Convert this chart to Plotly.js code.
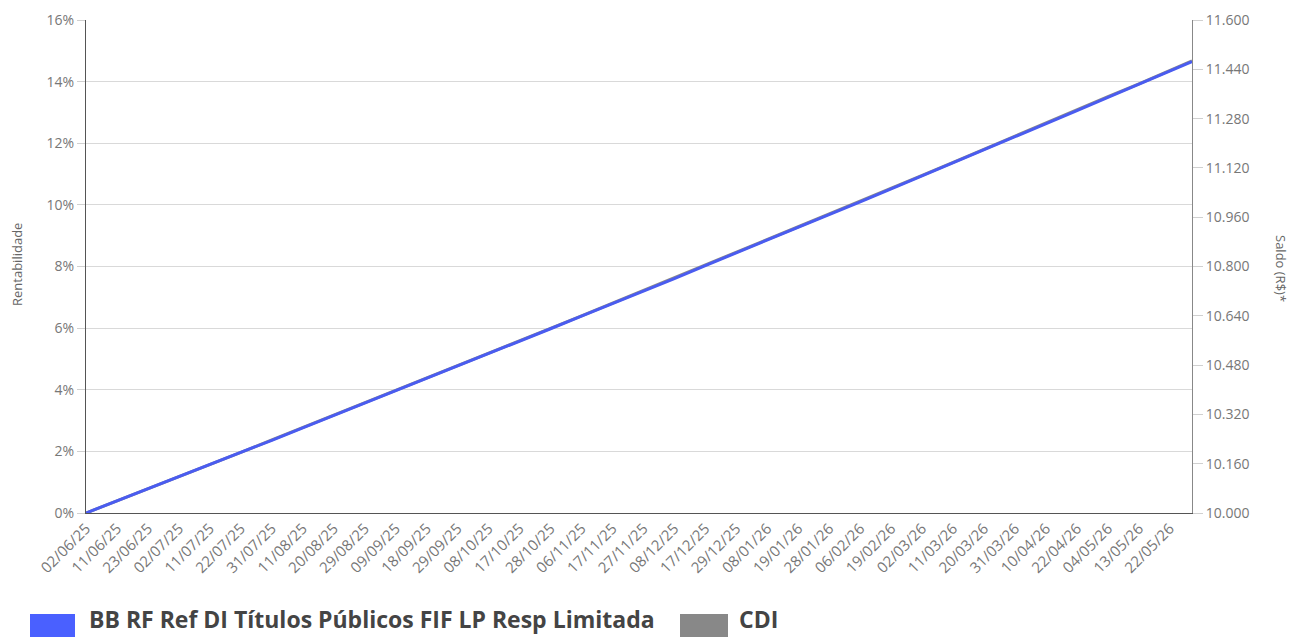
<!DOCTYPE html>
<html>
<head>
<meta charset="utf-8">
<script src="https://cdn.plot.ly/plotly-3.0.1.min.js"></script>
<style>
html,body{margin:0;padding:0;background:#fff;}
#chart{width:1289px;height:637px;}
</style>
</head>
<body>
<div id="chart"></div>
<script>
// Dates (business days) at which values were read
var dates = ["2025-06-02","2025-06-11","2025-06-23","2025-07-02","2025-07-11","2025-07-22","2025-07-31",
  "2025-08-11","2025-08-20","2025-08-29","2025-09-09","2025-09-18","2025-09-29","2025-10-08","2025-10-17",
  "2025-10-28","2025-11-06","2025-11-17","2025-11-27","2025-12-08","2025-12-17","2025-12-29","2026-01-08",
  "2026-01-19","2026-01-28","2026-02-06","2026-02-19","2026-03-02","2026-03-11","2026-03-20","2026-03-31",
  "2026-04-10","2026-04-22","2026-05-04","2026-05-13","2026-05-22","2026-05-29"];

var tickDates = dates.slice(0, 36);
var tickLabels = ["02/06/25","11/06/25","23/06/25","02/07/25","11/07/25","22/07/25","31/07/25",
  "11/08/25","20/08/25","29/08/25","09/09/25","18/09/25","29/09/25","08/10/25","17/10/25",
  "28/10/25","06/11/25","17/11/25","27/11/25","08/12/25","17/12/25","29/12/25","08/01/26",
  "19/01/26","28/01/26","06/02/26","19/02/26","02/03/26","11/03/26","20/03/26","31/03/26",
  "10/04/26","22/04/26","04/05/26","13/05/26","22/05/26"];

// Non-business days (holidays) removed from the axis
var holidays = ["2025-06-19","2025-11-20","2025-12-25","2026-01-01","2026-02-16","2026-02-17",
  "2026-04-03","2026-04-21","2026-05-01"];

var fundName = "BB RF Ref DI Títulos Públicos FIF LP Resp Limitada";
var fundValues = [0,0.39,0.78,1.18,1.57,1.96,2.36,2.76,3.16,3.56,3.96,4.36,4.76,5.17,5.57,5.98,6.39,6.79,
  7.20,7.61,8.03,8.44,8.85,9.27,9.69,10.10,10.52,10.94,11.36,11.79,12.21,12.63,13.06,13.49,13.91,14.34,14.65];

var cdiName = "CDI";
var cdiValues = [0,0.39,0.78,1.18,1.58,1.97,2.37,2.77,3.17,3.57,3.97,4.37,4.77,5.18,5.58,5.99,6.40,6.81,
  7.22,7.63,8.05,8.46,8.87,9.29,9.71,10.12,10.54,10.96,11.38,11.81,12.23,12.65,13.08,13.51,13.93,14.36,14.67];

var initialBalance = 10000;
var saldoValues = fundValues.map(function(v){ return initialBalance * (1 + v / 100); });

var leftTicks = [0,2,4,6,8,10,12,14,16];
var leftLabels = ["0%","2%","4%","6%","8%","10%","12%","14%","16%"];
var rightTicks = [10000,10160,10320,10480,10640,10800,10960,11120,11280,11440,11600];

var blue = "#4a5cf0";
var gray = "#8a8a8a";
var font = "Open Sans, Noto Sans, sans-serif";

var traces = [
  {x: dates, y: cdiValues, name: cdiName, type: "scatter", mode: "lines",
   line: {color: gray, width: 3}, xaxis: "x", yaxis: "y", hoverinfo: "x+y"},
  {x: dates, y: fundValues, name: fundName, type: "scatter", mode: "lines",
   line: {color: blue, width: 3}, xaxis: "x", yaxis: "y", hoverinfo: "x+y"},
  {x: dates, y: saldoValues, name: "Saldo", type: "scatter", mode: "lines",
   line: {color: "rgba(0,0,0,0)", width: 0}, xaxis: "x", yaxis: "y2", showlegend: false, hoverinfo: "skip"}
];

// legend drawn in pixels, converted to paper coords
var L = 86, R = 1192, T = 20, B = 513;
function px(x){ return (x - L) / (R - L); }
function py(y){ return (B - y) / (B - T); }

var layout = {
  width: 1289, height: 637,
  margin: {l: L, r: 1289 - R, t: T, b: 637 - B},
  paper_bgcolor: "#fff", plot_bgcolor: "#fff",
  separators: ",.",
  showlegend: false,
  font: {family: font, size: 14, color: "#777"},
  xaxis: {
    type: "date",
    range: [dates[0], dates[dates.length - 1]],
    rangebreaks: [{bounds: ["sat", "mon"]}, {values: holidays}],
    tickmode: "array", tickvals: tickDates, ticktext: tickLabels,
    tickangle: -45, ticks: "", showgrid: false, zeroline: false,
    showline: true, linecolor: "#555", linewidth: 1,
    tickfont: {family: font, size: 15, color: "#777"}
  },
  yaxis: {
    range: [0, 16], tickmode: "array", tickvals: leftTicks, ticktext: leftLabels,
    showgrid: true, gridcolor: "#d9d9d9", gridwidth: 1, zeroline: false,
    showline: true, linecolor: "#555", linewidth: 1,
    ticks: "outside", ticklen: 8, tickcolor: "#d0d0d0",
    tickfont: {family: font, size: 14, color: "#777"}
  },
  yaxis2: {
    overlaying: "y", side: "right", anchor: "x",
    range: [10000, 11600], tickmode: "array", tickvals: rightTicks, tickformat: ",.0f",
    showgrid: false, zeroline: false, showline: true, linecolor: "#888", linewidth: 1,
    ticks: "outside", ticklen: 10, tickcolor: "#d0d0d0",
    tickfont: {family: font, size: 14, color: "#777"}
  },
  shapes: [
    {type: "rect", xref: "paper", yref: "paper", x0: px(30), x1: px(75), y0: py(614), y1: py(640),
     fillcolor: "#4a60ff", line: {width: 0}},
    {type: "rect", xref: "paper", yref: "paper", x0: px(680), x1: px(728), y0: py(614), y1: py(640),
     fillcolor: "#888888", line: {width: 0}}
  ],
  annotations: [
    {text: "Rentabilidade", xref: "paper", yref: "paper", x: px(17), y: py(265), textangle: -90,
     showarrow: false, xanchor: "center", yanchor: "middle",
     font: {family: font, size: 13, color: "#666"}},
    {text: "Saldo (R$)*", xref: "paper", yref: "paper", x: px(1281), y: py(268), textangle: 90,
     showarrow: false, xanchor: "center", yanchor: "middle",
     font: {family: font, size: 13, color: "#666"}},
    {text: "<b>" + fundName + "</b>", xref: "paper", yref: "paper", x: px(87), y: py(619),
     showarrow: false, xanchor: "left", yanchor: "middle",
     font: {family: font, size: 23, color: "#444"}},
    {text: "<b>" + cdiName + "</b>", xref: "paper", yref: "paper", x: px(737), y: py(619),
     showarrow: false, xanchor: "left", yanchor: "middle",
     font: {family: font, size: 23, color: "#444"}}
  ]
};

Plotly.newPlot("chart", traces, layout, {displayModeBar: false, staticPlot: true});
</script>
</body>
</html>
